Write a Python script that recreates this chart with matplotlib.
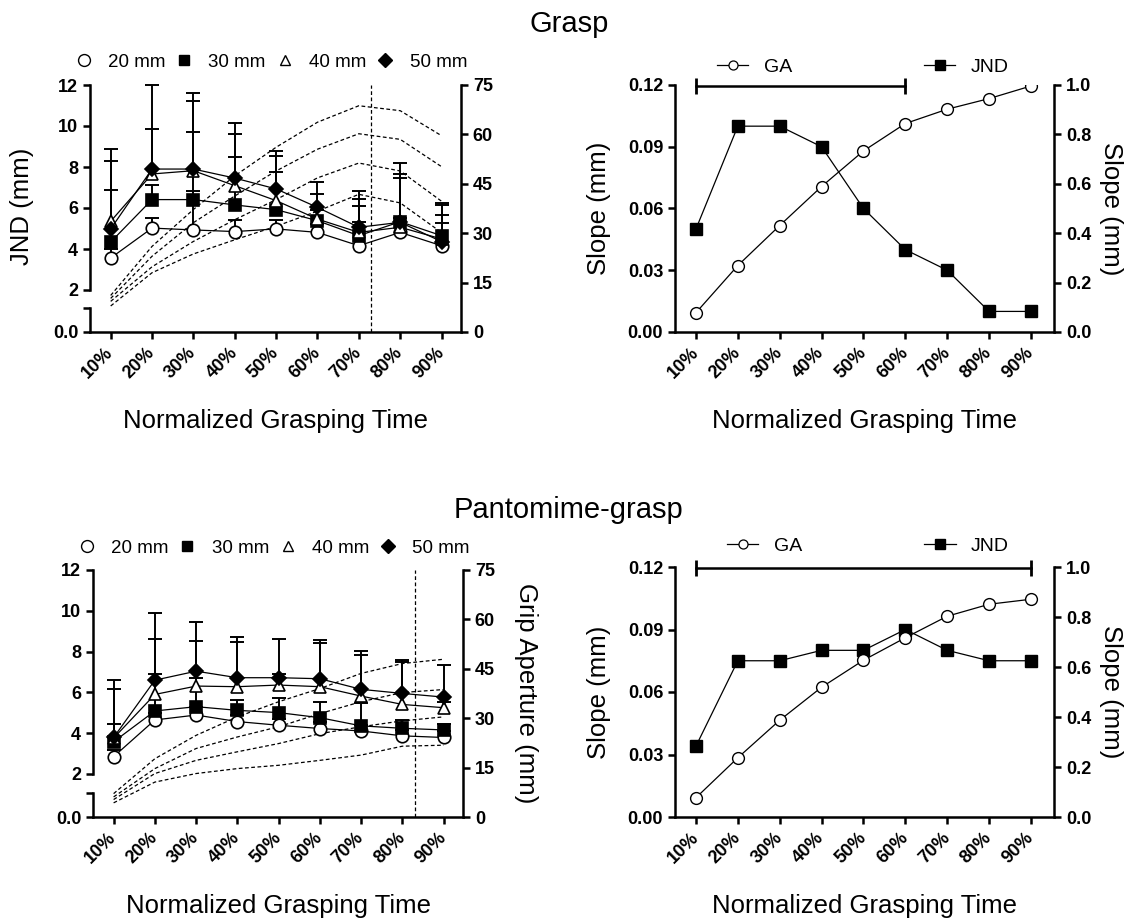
import matplotlib
matplotlib.use('Agg')
import matplotlib.pyplot as plt
from matplotlib.lines import Line2D
import numpy as np

plt.rcParams['font.family'] = ['Liberation Sans', 'DejaVu Sans']

time_labels = ['10%', '20%', '30%', '40%', '50%', '60%', '70%', '80%', '90%']
size_labels = ['20 mm', '30 mm', '40 mm', '50 mm']

# Grasp: JND means (mm) per object size
grasp_jnd_20 = [3.56, 5.02, 4.93, 4.85, 4.98, 4.81, 4.16, 4.81, 4.16]
grasp_jnd_30 = [4.34, 6.41, 6.41, 6.15, 5.92, 5.38, 4.65, 5.33, 4.65]
grasp_jnd_40 = [5.35, 7.66, 7.82, 7.09, 6.36, 5.46, 4.81, 5.06, 4.49]
grasp_jnd_50 = [4.98, 7.90, 7.90, 7.46, 6.93, 6.03, 5.06, 5.30, 4.36]
# upper error (SD)
grasp_err_20 = [0.44, 0.48, 1.92, 0.55, 0.42, 0.39, 1.14, 0.69, 1.09]
grasp_err_30 = [2.55, 0.71, 3.31, 2.35, 1.82, 0.52, 1.46, 2.12, 1.02]
grasp_err_40 = [2.96, 2.19, 3.42, 2.52, 2.19, 1.22, 1.63, 2.60, 1.66]
grasp_err_50 = [3.90, 4.10, 3.70, 2.69, 1.87, 1.22, 1.79, 2.90, 1.87]
# grip aperture (mm), dashed lines
grasp_ga_20 = [7.9, 18.0, 23.7, 28.0, 32.1, 36.7, 41.8, 39.2, 30.2]
grasp_ga_30 = [9.3, 19.8, 27.5, 34.1, 40.2, 46.8, 51.3, 48.9, 39.7]
grasp_ga_40 = [10.2, 23.0, 33.2, 41.3, 48.9, 55.5, 60.2, 58.5, 50.2]
grasp_ga_50 = [11.1, 26.0, 37.2, 47.4, 56.1, 63.7, 68.7, 67.2, 59.6]
grasp_mga_time = 6.3

# Pantomime-grasp
pant_jnd_20 = [2.85, 4.65, 4.89, 4.57, 4.39, 4.23, 4.11, 3.87, 3.79]
pant_jnd_30 = [3.58, 5.09, 5.30, 5.12, 5.01, 4.76, 4.36, 4.24, 4.16]
pant_jnd_40 = [3.76, 5.90, 6.31, 6.28, 6.36, 6.28, 5.82, 5.41, 5.25]
pant_jnd_50 = [3.79, 6.60, 7.04, 6.72, 6.72, 6.67, 6.15, 5.95, 5.77]
pant_err_20 = [0.35, 0.35, 0.40, 0.30, 0.30, 0.30, 0.30, 0.30, 0.30]
pant_err_30 = [0.86, 1.82, 1.40, 0.50, 0.73, 0.78, 1.10, 0.40, 0.30]
pant_err_40 = [2.39, 2.73, 2.19, 2.18, 0.55, 2.14, 2.03, 2.10, 0.30]
pant_err_50 = [2.81, 3.29, 2.41, 2.00, 1.91, 1.92, 1.87, 1.65, 1.55]
pant_ga_20 = [4.3, 10.6, 13.2, 14.7, 15.7, 17.2, 18.8, 21.5, 21.8]
pant_ga_30 = [5.3, 13.2, 17.2, 19.8, 22.3, 25.3, 27.4, 29.2, 30.4]
pant_ga_40 = [6.1, 14.7, 20.8, 24.3, 27.4, 31.4, 35.0, 37.8, 38.7]
pant_ga_50 = [7.1, 17.7, 24.8, 30.4, 35.0, 39.0, 43.6, 46.6, 47.9]
pant_mga_time = 7.3

# slopes
grasp_slope_jnd = [0.050, 0.100, 0.100, 0.090, 0.060, 0.040, 0.030, 0.010, 0.010]
grasp_slope_ga = [0.078, 0.269, 0.431, 0.589, 0.733, 0.844, 0.902, 0.945, 0.996]
grasp_sig_span = [0, 5]
pant_slope_jnd = [0.034, 0.075, 0.075, 0.080, 0.080, 0.090, 0.080, 0.075, 0.075]
pant_slope_ga = [0.077, 0.237, 0.387, 0.519, 0.627, 0.717, 0.803, 0.851, 0.871]
pant_sig_span = [0, 8]

W, H = 1138, 924
fig = plt.figure(figsize=(W / 100, H / 100), dpi=100)

x = np.arange(len(time_labels))
SPW = 1.8
TICK = dict(length=5, width=SPW, labelsize=13)
LABEL_FS = 18.5
dash = (0, (3, 2))

styles = [dict(marker='o', ms=9, mfc='white'),
          dict(marker='s', ms=8, mfc='black'),
          dict(marker='^', ms=8, mfc='white'),
          dict(marker='D', ms=7.5, mfc='black')]


def px_box(left, top, right, bottom):
    return [left / W, 1 - bottom / H, (right - left) / W, (bottom - top) / H]


def bold_ticks(ax):
    for t in ax.get_xticklabels() + ax.get_yticklabels():
        t.set_fontweight('bold')


def time_axis(ax):
    ax.set_xticks(x)
    ax.set_xticklabels(time_labels, rotation=45, ha='right', va='center',
                       rotation_mode='anchor')
    ax.tick_params(axis='x', pad=8, **TICK)
    ax.set_xlabel('Normalized Grasping Time', fontsize=LABEL_FS)


def left_panel(l, t, r, b, y2, ylow, jnd, err, ga, mga, left_lab, right_lab, leg_y):
    # right axis: grip aperture
    axr = fig.add_axes(px_box(l, t, r, b))
    axr.set_xlim(-0.5, 8.47)
    axr.set_ylim(0, 75)
    axr.yaxis.tick_right()
    axr.set_yticks([0, 15, 30, 45, 60, 75])
    axr.spines['top'].set_visible(False)
    axr.spines['left'].set_visible(False)
    axr.spines['right'].set_linewidth(SPW)
    axr.spines['bottom'].set_linewidth(SPW)
    axr.tick_params(axis='y', **TICK)
    for g in ga:
        axr.plot(x, g, ls=dash, color='black', lw=0.9)
    axr.axvline(mga, ls=dash, color='black', lw=0.9)
    time_axis(axr)
    axr.xaxis.set_label_coords(0.5, -0.31)
    if right_lab:
        axr.set_ylabel(right_lab, fontsize=LABEL_FS, rotation=270, va='center')
        axr.yaxis.set_label_coords(1.17, 0.5)
    bold_ticks(axr)

    # upper segment of the broken JND axis
    axt = fig.add_axes(px_box(l, t, r, y2), facecolor='none')
    axt.set_xlim(-0.5, 8.47)
    axt.set_ylim(2, 12)
    axt.set_yticks([2, 4, 6, 8, 10, 12])
    for s in ['top', 'right', 'bottom']:
        axt.spines[s].set_visible(False)
    axt.spines['left'].set_linewidth(SPW)
    axt.tick_params(axis='y', **TICK)
    axt.xaxis.set_visible(False)
    for m, e in zip(jnd, err):
        top = np.array(m) + np.array(e)
        axt.vlines(x, m, top, color='black', lw=1.4, zorder=2, clip_on=False)
        axt.plot(x, top, ls='none', marker='_', ms=10, mew=1.4, color='black',
                 zorder=2, clip_on=False)
    handles = []
    for m, st in zip(jnd, styles):
        axt.plot(x, m, color='black', lw=0.9, mec='black', mew=1.2,
                 zorder=3, **st)
        handles.append(Line2D([], [], ls='none', color='black', mec='black',
                              mew=1.0, marker=st['marker'], mfc=st['mfc'],
                              ms=st['ms'] * 0.95))
    if left_lab:
        axt.set_ylabel(left_lab, fontsize=LABEL_FS)
        axt.yaxis.set_label_coords(-0.15, 0.41)
    bold_ticks(axt)

    # lower segment
    low_max = 24 / 20.5
    axl = fig.add_axes(px_box(l, ylow, r, b), facecolor='none')
    axl.set_xlim(-0.5, 8.47)
    axl.set_ylim(0, low_max)
    axl.set_yticks([0, low_max])
    axl.set_yticklabels(['0.0', ''])
    for s in ['top', 'right', 'bottom']:
        axl.spines[s].set_visible(False)
    axl.spines['left'].set_linewidth(SPW)
    axl.tick_params(axis='y', **TICK)
    axl.xaxis.set_visible(False)
    bold_ticks(axl)

    fig.legend(handles, size_labels, loc='center left',
               bbox_to_anchor=((l - 14) / W, 1 - leg_y / H), ncol=4,
               frameon=False, fontsize=13.5, handlelength=0.8,
               handletextpad=0.9, columnspacing=0.6, borderpad=0,
               borderaxespad=0)


def right_panel(l, t, r, b, jnd, ga, span, leg_x, leg_y, colsp):
    ax = fig.add_axes(px_box(l, t, r, b))
    ax.set_xlim(-0.5, 8.55)
    ax.set_ylim(0, 0.12)
    ax.set_yticks([0, 0.03, 0.06, 0.09, 0.12])
    ax.set_yticklabels(['%.2f' % v for v in [0, 0.03, 0.06, 0.09, 0.12]])
    ax.spines['top'].set_visible(False)
    ax.spines['right'].set_visible(False)
    ax.spines['left'].set_linewidth(SPW)
    ax.spines['bottom'].set_linewidth(SPW)
    ax.tick_params(axis='y', **TICK)
    time_axis(ax)
    ax.xaxis.set_label_coords(0.5, -0.31)
    ax.set_ylabel('Slope (mm)', fontsize=LABEL_FS)
    ax.yaxis.set_label_coords(-0.17, 0.5)
    ax.plot(x, jnd, color='black', lw=0.9, marker='s', ms=9, mfc='black',
            zorder=3)
    ax.plot([x[span[0]], x[span[1]]], [0.1195, 0.1195], color='black', lw=1.8,
            marker='|', ms=11, mew=2, clip_on=False)
    bold_ticks(ax)

    ax2 = ax.twinx()
    ax2.set_ylim(0, 1.0)
    ax2.set_yticks([0, 0.2, 0.4, 0.6, 0.8, 1.0])
    ax2.set_yticklabels(['%.1f' % v for v in [0, 0.2, 0.4, 0.6, 0.8, 1.0]])
    for s in ['top', 'left', 'bottom']:
        ax2.spines[s].set_visible(False)
    ax2.spines['right'].set_linewidth(SPW)
    ax2.tick_params(axis='y', **TICK)
    ax2.plot(x, ga, color='black', lw=0.9, marker='o', ms=8.5, mfc='white',
             mec='black', mew=1.0, zorder=3)
    ax2.set_ylabel('Slope (mm)', fontsize=LABEL_FS, rotation=270, va='center')
    ax2.yaxis.set_label_coords(1.15, 0.5)
    bold_ticks(ax2)

    h_ga = Line2D([], [], color='black', lw=0.9, marker='o', ms=6.5,
                  mfc='white', mec='black', mew=0.9)
    h_jnd = Line2D([], [], color='black', lw=0.9, marker='s', ms=6.5,
                   mfc='black', mec='black')
    fig.legend([h_ga, h_jnd], ['GA', 'JND'], loc='center left',
               bbox_to_anchor=(leg_x / W, 1 - leg_y / H), ncol=2,
               frameon=False, fontsize=14, handlelength=1.6,
               handletextpad=0.8, columnspacing=colsp, borderpad=0,
               borderaxespad=0)


fig.text(0.5, 1 - 24 / H, 'Grasp', ha='center', va='center', fontsize=21)
fig.text(0.5, 1 - 510 / H, 'Pantomime-grasp', ha='center', va='center',
         fontsize=21)

left_panel(90, 85, 461, 332, 290, 308,
           [grasp_jnd_20, grasp_jnd_30, grasp_jnd_40, grasp_jnd_50],
           [grasp_err_20, grasp_err_30, grasp_err_40, grasp_err_50],
           [grasp_ga_20, grasp_ga_30, grasp_ga_40, grasp_ga_50],
           grasp_mga_time, 'JND (mm)', None, 62)
left_panel(93, 570, 463, 817, 774, 793,
           [pant_jnd_20, pant_jnd_30, pant_jnd_40, pant_jnd_50],
           [pant_err_20, pant_err_30, pant_err_40, pant_err_50],
           [pant_ga_20, pant_ga_30, pant_ga_40, pant_ga_50],
           pant_mga_time, None, 'Grip Aperture (mm)', 548)

right_panel(675, 85, 1054, 332, grasp_slope_jnd, grasp_slope_ga,
            grasp_sig_span, 717, 67, 6.8)
right_panel(675, 567, 1054, 817, pant_slope_jnd, pant_slope_ga,
            pant_sig_span, 727, 546, 6.3)

fig.savefig('out.png', dpi=100)
